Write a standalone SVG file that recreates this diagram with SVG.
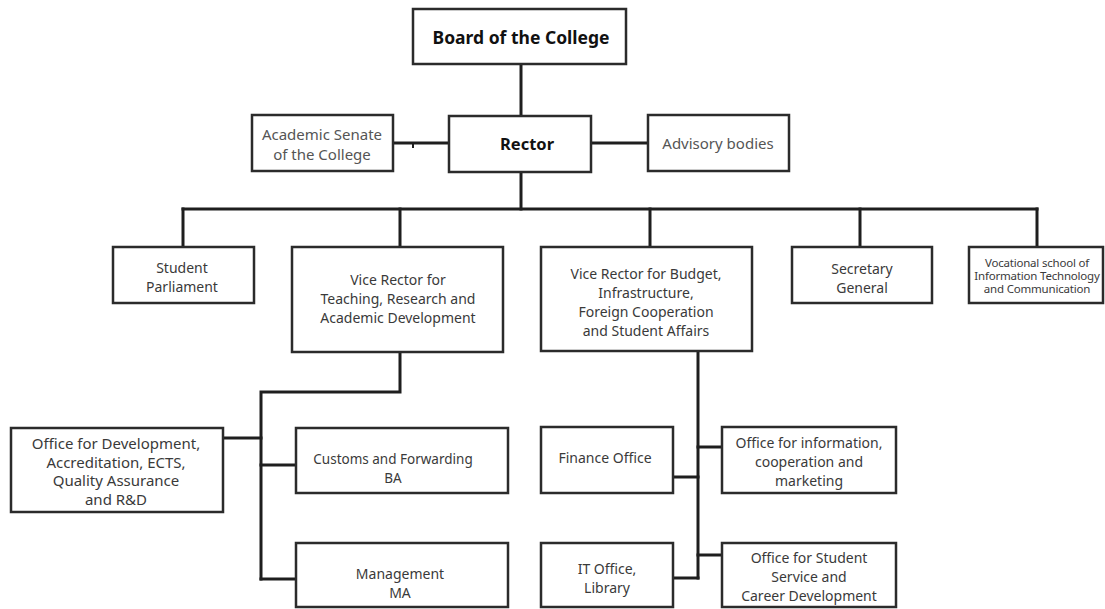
<svg xmlns="http://www.w3.org/2000/svg" width="1105" height="609" viewBox="0 0 1105 609">
<style>
.box{fill:#fff;stroke:#2b2b2b;stroke-width:2.5}
.ln{fill:none;stroke:#1e1e1e;stroke-width:3;stroke-linecap:square}
text{font-family:"Noto Sans","Liberation Sans",sans-serif;fill:#3a3a3a;text-anchor:middle;dominant-baseline:central}
.t{font-size:13.5px}
.m{font-size:14px}
.l{font-size:15px}
.s{font-size:11.5px;letter-spacing:-0.2px}
.g{fill:#555;font-size:15px}
.b{font-weight:bold;fill:#111}
</style>
<rect width="1105" height="609" fill="#fff"/>
<g id="connectors">
<path class="ln" d="M521 64V116"/>
<path class="ln" d="M393 143H449"/>
<path d="M413 143V148" stroke="#1e1e1e" stroke-width="2"/>
<path class="ln" d="M591 143H648"/>
<path class="ln" d="M521 172V209"/>
<path class="ln" d="M183 209H1037"/>
<path class="ln" d="M183 209V247M400 209V247M650 209V247M860 209V247M1037 209V247"/>
<path class="ln" d="M400 352V392H261V579"/>
<path class="ln" d="M223 438H261M261 465H296M261 579H296"/>
<path class="ln" d="M698 351V578"/>
<path class="ln" d="M698 447H722M673 477H698M698 555H722M673 578H698"/>
</g>
<g id="board"><rect class="box" x="413" y="9" width="213" height="55"/><text class="b" x="521" y="37" font-size="17.5">Board of the College</text></g>
<g id="rector"><rect class="box" x="449" y="116" width="142" height="56"/><text class="b" x="527" y="143" font-size="16.5">Rector</text></g>
<g id="senate"><rect class="box" x="252" y="115" width="141" height="56"/><text class="g" x="322" y="134">Academic Senate</text><text class="g" x="322" y="154">of the College</text></g>
<g id="advisory"><rect class="box" x="648" y="115" width="141" height="56"/><text class="g" x="718" y="143">Advisory bodies</text></g>
<g id="parliament"><rect class="box" x="113" y="247" width="141" height="56"/><text class="m" x="182" y="267">Student</text><text class="m" x="182" y="286">Parliament</text></g>
<g id="vr-teaching"><rect class="box" x="292" y="247" width="211" height="105"/><text class="m" x="398" y="279">Vice Rector for</text><text class="m" x="398" y="298">Teaching, Research and</text><text class="m" x="398" y="317">Academic Development</text></g>
<g id="vr-budget"><rect class="box" x="541" y="247" width="211" height="104"/><text class="m" x="646" y="273">Vice Rector for Budget,</text><text class="m" x="646" y="292">Infrastructure,</text><text class="m" x="646" y="311">Foreign Cooperation</text><text class="m" x="646" y="330">and Student Affairs</text></g>
<g id="secretary"><rect class="box" x="792" y="247" width="140" height="56"/><text class="m" x="862" y="268">Secretary</text><text class="m" x="862" y="287">General</text></g>
<g id="vocational"><rect class="box" x="969" y="247" width="134" height="56"/><text class="s" x="1037" y="262">Vocational school of</text><text class="s" x="1037" y="275">Information Technology</text><text class="s" x="1037" y="288">and Communication</text></g>
<g id="office-dev"><rect class="box" x="11" y="428" width="212" height="84"/><text class="l" x="116" y="443">Office for Development,</text><text class="l" x="116" y="462">Accreditation, ECTS,</text><text class="l" x="116" y="480">Quality Assurance</text><text class="l" x="116" y="499">and R&amp;D</text></g>
<g id="customs"><rect class="box" x="296" y="428" width="212" height="65"/><text class="t" x="393" y="459">Customs and Forwarding</text><text class="t" x="393" y="478">BA</text></g>
<g id="management"><rect class="box" x="296" y="543" width="212" height="64"/><text class="m" x="400" y="573">Management</text><text class="m" x="400" y="592">MA</text></g>
<g id="finance"><rect class="box" x="541" y="427" width="132" height="66"/><text class="m" x="605" y="457">Finance Office</text></g>
<g id="office-info"><rect class="box" x="722" y="427" width="174" height="66"/><text class="m" x="809" y="442">Office for information,</text><text class="m" x="809" y="461">cooperation and</text><text class="m" x="809" y="480">marketing</text></g>
<g id="it-office"><rect class="box" x="541" y="543" width="132" height="64"/><text class="m" x="607" y="568">IT Office,</text><text class="m" x="607" y="587">Library</text></g>
<g id="student-service"><rect class="box" x="722" y="543" width="174" height="64"/><text class="m" x="809" y="557">Office for Student</text><text class="m" x="809" y="576">Service and</text><text class="m" x="809" y="595">Career Development</text></g>
</svg>
